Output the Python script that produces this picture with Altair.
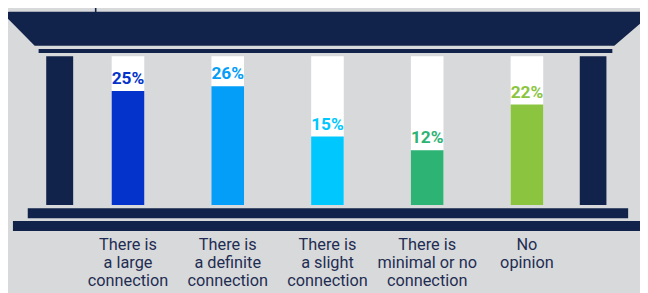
import altair as alt
import pandas as pd

# ---- data ----
categories = [
    "There is\na large\nconnection",
    "There is\na definite\nconnection",
    "There is\na slight\nconnection",
    "There is\nminimal or no\nconnection",
    "No\nopinion",
]
values = [25, 26, 15, 12, 22]
value_labels = ["25%", "26%", "15%", "12%", "22%"]
bar_colors = ["#0433cb", "#049df7", "#00c8fe", "#2db374", "#8bc53f"]

# ---- style / layout ----
NAVY = "#12234b"
BG = "#d8d9db"
TEXT = "#1f2d52"
W, H = 640, 285
OFF = 8  # page margin: reference pixel -> chart pixel
Y_MAX = 32.6

def P(x, y):
    return f"{x - OFF:.1f},{y - OFF:.1f}"

def rect(x0, y0, x1, y1):
    return f"M{P(x0, y0)}L{P(x1, y0)}L{P(x1, y1)}L{P(x0, y1)}Z"

temple = (
    # roof
    f"M{P(9, 10)}L{P(662, 10)}L{P(622, 44.5)}L{P(35, 44.5)}L{P(7, 16)}Q{P(4, 11)} {P(9, 10)}Z"
    + rect(96, -10, 97.6, 10)       # thin line above roof
    + rect(39, 47.7, 620, 51.7)     # architrave
    + rect(46.7, 55, 74, 205.7)     # left column
    + rect(587, 55, 614, 205.7)     # right column
    + rect(28, 209, 636, 219)       # base step 1
    + rect(13, 222, 662, 232)       # base step 2
)

df = pd.DataFrame({
    "cat": categories,
    "value": values,
    "label": value_labels,
    "full": [Y_MAX] * len(categories),
})

x_scale = alt.Scale(type="band", domain=categories, range=[79 - OFF, 584 - OFF],
                    paddingInner=0, paddingOuter=0)
y_scale = alt.Scale(domain=[0, Y_MAX], range=[205.7 - OFF, 55 - OFF], nice=False, zero=True)
color_scale = alt.Scale(domain=categories, range=bar_colors)

X = alt.X("cat:N", scale=x_scale, axis=None, sort=categories)

decor = alt.Chart(pd.DataFrame({"a": [0]})).mark_point(
    shape=temple, size=4, filled=True, fill=NAVY, strokeWidth=0, opacity=1
).encode(x=alt.value(0), y=alt.value(0))

base = alt.Chart(df)

white = base.mark_bar(width=33, color="white").encode(
    x=X, y=alt.Y("full:Q", scale=y_scale, axis=None)
)

bars = base.mark_bar(width=33).encode(
    x=X,
    y=alt.Y("value:Q", scale=y_scale, axis=None),
    color=alt.Color("cat:N", scale=color_scale, legend=None),
)

pct = base.mark_text(
    baseline="bottom", dy=-3, font="Roboto", fontWeight="bold", fontSize=17.5
).encode(
    x=X,
    y=alt.Y("value:Q", scale=y_scale, axis=None),
    text="label:N",
    color=alt.Color("cat:N", scale=color_scale, legend=None),
)

cat_text = base.mark_text(
    baseline="alphabetic", lineBreak="\n", font="Roboto",
    fontSize=16.5, lineHeight=18.4, color=TEXT,
).encode(
    x=X,
    y=alt.value(251 - OFF),
    text="cat:N",
)

chart = alt.layer(decor, white, bars, pct, cat_text).properties(
    width=W, height=H, padding=0, autosize=alt.AutoSizeParams(type="none"),
    background=BG,
).configure_view(stroke=None)

chart.save("out.html", embed_options={"renderer": "svg", "actions": False})
